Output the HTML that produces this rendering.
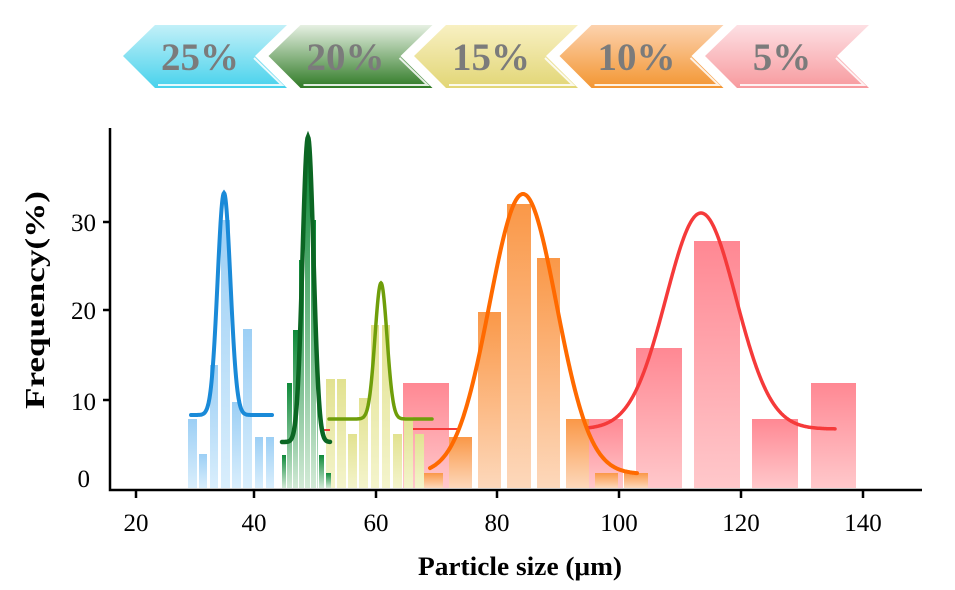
<!DOCTYPE html>
<html><head><meta charset="utf-8"><style>
html,body{margin:0;padding:0;background:#fff;}
svg{display:block;font-family:"Liberation Serif",serif;}
</style></head><body>
<svg id="s" width="955" height="590" viewBox="0 0 955 590" xmlns="http://www.w3.org/2000/svg">
<defs>
<linearGradient id="gb" x1="0" y1="0" x2="0" y2="1"><stop offset="0" stop-color="#9ccff5"/><stop offset="1" stop-color="#d9eefc"/></linearGradient>
<linearGradient id="gg" x1="0" y1="0" x2="0" y2="1"><stop offset="0" stop-color="#0f8a3a"/><stop offset="1" stop-color="#d2ead6"/></linearGradient>
<linearGradient id="gy" x1="0" y1="0" x2="0" y2="1"><stop offset="0" stop-color="#e2e290"/><stop offset="1" stop-color="#f4f4cc"/></linearGradient>
<linearGradient id="go" x1="0" y1="0" x2="0" y2="1"><stop offset="0" stop-color="#fa9848"/><stop offset="1" stop-color="#fdd8bb"/></linearGradient>
<linearGradient id="gp" x1="0" y1="0" x2="0" y2="1"><stop offset="0" stop-color="#ff8893"/><stop offset="1" stop-color="#ffc8cb"/></linearGradient>
<linearGradient id="a1" x1="0" y1="0" x2="0" y2="1"><stop offset="0" stop-color="#c2f0f8"/><stop offset="1" stop-color="#48d2ec"/></linearGradient>
<linearGradient id="a2" x1="0" y1="0" x2="0" y2="1"><stop offset="0" stop-color="#e6f0e2"/><stop offset="1" stop-color="#2f7a25"/></linearGradient>
<linearGradient id="a3" x1="0" y1="0" x2="0" y2="1"><stop offset="0" stop-color="#f8f0c2"/><stop offset="1" stop-color="#e2d676"/></linearGradient>
<linearGradient id="a4" x1="0" y1="0" x2="0" y2="1"><stop offset="0" stop-color="#fcd2ae"/><stop offset="1" stop-color="#f39632"/></linearGradient>
<linearGradient id="a5" x1="0" y1="0" x2="0" y2="1"><stop offset="0" stop-color="#fde0e4"/><stop offset="1" stop-color="#f79a9e"/></linearGradient>
</defs>
<g id="banner"></g>
<g id="bars"></g>
<g id="curves" fill="none" stroke-width="3"></g>
<g stroke="#000" stroke-width="2.5" fill="none">
<path d="M110 128V490H922"/>
<path d="M136 490v8M254 490v8M376 490v8M497 490v8M619 490v8M741 490v8M863 490v8"/>
<path d="M110 222h-7M110 310h-7M110 400h-7"/>
</g>
<g font-size="25" text-anchor="middle" fill="#000">
<text x="136" y="531">20</text><text x="254" y="531">40</text><text x="376" y="531">60</text><text x="497" y="531">80</text><text x="619" y="531">100</text><text x="741" y="531">120</text><text x="863" y="531">140</text>
</g>
<g font-size="25" text-anchor="end" fill="#000">
<text x="96" y="231">30</text><text x="96" y="319">20</text><text x="96" y="410">10</text><text x="90" y="487">0</text>
</g>
<text x="520" y="575" font-size="26" font-weight="bold" text-anchor="middle" textLength="204" lengthAdjust="spacingAndGlyphs">Particle size (μm)</text>
<text transform="translate(44 300) rotate(-90)" font-size="27" font-weight="bold" text-anchor="middle" textLength="218" lengthAdjust="spacingAndGlyphs">Frequency(%)</text>
</svg>
<script>
var NS="http://www.w3.org/2000/svg";
function el(p,t,a){var e=document.createElementNS(NS,t);for(var k in a)e.setAttribute(k,a[k]);p.appendChild(e);return e;}
var bars=document.getElementById('bars'),B=488;
function bar(x1,x2,top,f){el(bars,'rect',{x:x1,y:top,width:x2-x1,height:B-top,fill:f});}
[[403,449,383],[587,623,419],[636,682,348],[694,740,241],[752,798,419],[811,856,383]].forEach(function(b){bar(b[0],b[1],b[2],'url(#gp)');});
[[420,443,473],[449,472,437],[478,501,312],[507,531,204],[537,560,258],[566,589,419],[595,618,473],[624,648,473]].forEach(function(b){bar(b[0],b[1],b[2],'url(#go)');});
[[326,335,379],[337,346,379],[348,357,434],[359,368,398],[371,379,325],[382,390,325],[393,402,434],[404,413,417],[415,424,434]].forEach(function(b){bar(b[0],b[1],b[2],'url(#gy)');});
[[188,197,419],[199,207,454],[210,218,365],[221,230,220],[232,241,402],[243,252,329],[255,263,437],[266,274,437]].forEach(function(b){bar(b[0],b[1],b[2],'url(#gb)');});
[[282,286,455],[287,292,383],[293,298,330],[299,304,260],[305,310,160],[311,316,220],[317,318,330],[319,324,455],[326,331,473]].forEach(function(b){bar(b[0],b[1],b[2],'url(#gg)');});
var cv=document.getElementById('curves');
function curve(c,s,peak,base,x1,x2,col,w){var d='';for(var x=x1;x<=x2;x+=0.5){var y=base-(base-peak)*Math.exp(-(x-c)*(x-c)/(2*s*s));d+=(d?'L':'M')+x.toFixed(1)+' '+y.toFixed(1);}el(cv,'path',{d:d,stroke:col,'stroke-width':w||3,'stroke-linecap':'round'});}
el(cv,'path',{d:'M413 429H460',stroke:'#f53a3a','stroke-width':2});
el(cv,'path',{d:'M322 430H330',stroke:'#f53a3a','stroke-width':2});
curve(701,35,213,429,588,835,'#f53a3a',3.5);
curve(523,33.5,194,474,430,637,'#ff6a00',4);
curve(381,6,283,419,329,432,'#6f9e0a',3.5);
curve(224,6.4,193,415,191,272,'#1a8ad8',4);
curve(308,5.5,137,442,282,330,'#0b6623',4.5);
var bn=document.getElementById('banner');
var labels=['25%','20%','15%','10%','5%'],gr=['a1','a2','a3','a4','a5'];
for(var i=0;i<5;i++){var o=i*145.5;
el(bn,'path',{d:'M'+(123+o)+' 56L'+(155+o)+' 25L'+(287+o)+' 25L'+(255+o)+' 56L'+(287+o)+' 88L'+(155+o)+' 88Z',fill:'url(#'+gr[i]+')'});
el(bn,'path',{d:'M'+(254+o)+' 58L'+(282+o)+' 85L'+(158+o)+' 85',stroke:'#fff','stroke-width':2,fill:'none',opacity:0.85});
var t=el(bn,'text',{x:200+o,y:70,'font-size':39,'font-weight':'bold','text-anchor':'middle',fill:'#7b7b7b'});t.textContent=labels[i];}
</script>
</body></html>
